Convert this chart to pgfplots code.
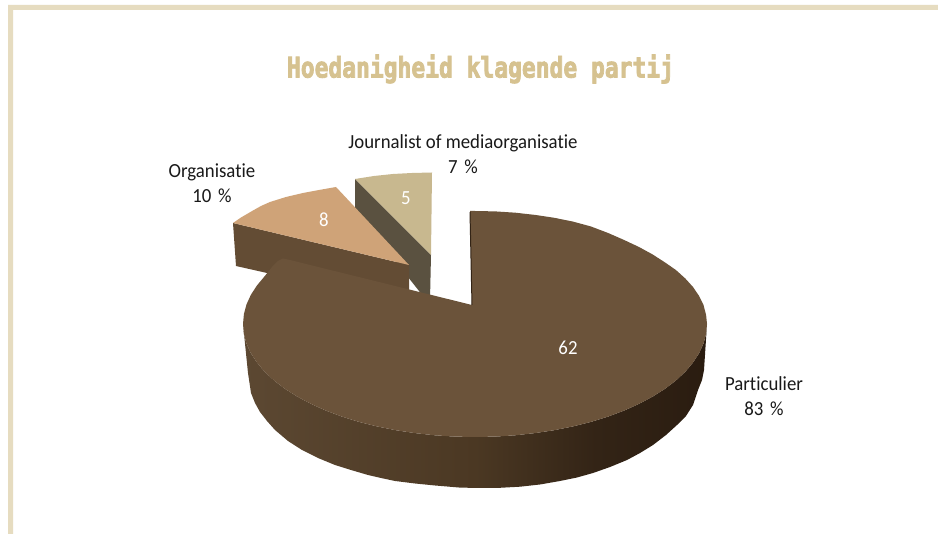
\documentclass[border=0pt]{standalone}
\usepackage{fontspec}
\usepackage{graphicx}
\usepackage{pgfplots}
\pgfplotsset{compat=1.18}
\setmainfont{Carlito}[Ligatures=NoCommon,FakeStretch=0.94]
\newfontfamily\titlefont{DejaVu Sans Mono}[FakeBold=3]
\definecolor{frame}{HTML}{E6DCC0}
\definecolor{titlec}{HTML}{D6C290}
\definecolor{maintop}{HTML}{6B533A}
\definecolor{orgtop}{HTML}{CFA378}
\definecolor{orgside}{HTML}{634C34}
\definecolor{jourtop}{HTML}{C8B88F}
\definecolor{jourside}{HTML}{5A5140}
\definecolor{wa}{HTML}{5C4832}
\definecolor{wb}{HTML}{4B3823}
\definecolor{wc}{HTML}{332416}
\definecolor{wd}{HTML}{2A1C10}
\pgfdeclarehorizontalshading{wall}{100bp}{color(0bp)=(wa); color(25bp)=(wa); color(50bp)=(wb); color(63bp)=(wc); color(75bp)=(wd); color(100bp)=(wd)}
\begin{document}
\begin{tikzpicture}
\begin{axis}[
  scale only axis, width=938pt, height=534pt,
  xmin=0, xmax=938, ymin=0, ymax=534, y dir=reverse,
  hide axis, clip=true,
  every axis plot/.append style={draw=none, line width=0pt},
]
% page extent
\addplot[fill=white] coordinates {(0,0) (938,0) (938,534) (0,534)} -- cycle;
% frame
\addplot[fill=frame] coordinates {(8,5) (938,5) (938,10) (13,10) (13,534) (8,534)} -- cycle;
% Journalist side
\addplot[fill=jourside] coordinates {(355,179) (431,255) (430,300) (423,296) (355,210)} -- cycle;
% Journalist top
\addplot[fill=jourtop] coordinates {(355,179) (374,176) (393,174) (412,173) (432,172.5) (431,255)} -- cycle;
% Organisatie side
\addplot[fill=orgside] coordinates {(233,223) (409,265) (409,305) (236,266)} -- cycle;
% Organisatie top
\addplot[fill=orgtop] coordinates {(233,223) (241,217.5) (253,210.5) (261,206) (270,202) (286,197) (303,193) (319,190) (336,187) (409,265)} -- cycle;
% Main side (cylinder wall)
\addplot[shading=wall] coordinates {
 (243,324) (243.9,333.9) (246.5,343.6) (250.9,353.2) (257,362.6) (264.7,371.8) (274.1,380.5) (284.9,388.8) (297.3,396.6) (311,403.9) (325.9,410.6) (341.9,416.6) (359,421.9) (377,426.4) (395.7,430.2) (415,433.1) (434.7,435.3) (454.8,436.6) (475,437)
 (495.2,436.6) (515.3,435.3) (535,433.1) (554.3,430.2) (573,426.4) (591,421.9) (608.1,416.6) (624.1,410.6) (639,403.9) (652.7,396.6) (665.1,388.8) (675.9,380.5) (685.3,371.8) (693,362.6) (699.1,353.2) (703.5,343.6) (706.1,333.9) (707,324)
 (704,370) (702,380) (698,390) (693,405) (686,416) (677,425) (666,435) (653,445) (640,453) (627,460) (610,467) (593,473) (577,477.5) (560,481) (540,484.5) (520,486.7) (500,487.8) (480,488)
 (460,487.6) (435.2,485.5) (415,483.5) (395,481) (381,478) (368,475) (351,470) (335,465) (318,458) (302,450) (288,441) (275,430) (267,421) (260,412) (255,403) (251,393) (248,373)
} -- cycle;
% Main top
\addplot[fill=maintop] coordinates {
 (470,211) (475,211) (495.2,211.4) (515.3,212.7) (535,214.9) (554.3,217.8) (573,221.6) (591,226.5) (608.1,233) (624.1,240) (639,247) (652.7,254.5) (665.1,262.5) (675.9,270) (685.3,278.5) (693,287) (699.1,296) (703.5,305) (706.1,315) (707,324)
 (706.1,333.9) (703.5,343.6) (699.1,353.2) (693,362.6) (685.3,371.8) (675.9,380.5) (665.1,388.8) (652.7,396.6) (639,403.9) (624.1,410.6) (608.1,416.6) (591,421.9) (573,426.4) (554.3,430.2) (535,433.1) (515.3,435.3) (495.2,436.6) (475,437)
 (454.8,436.6) (434.7,435.3) (415,433.1) (395.7,430.2) (377,426.4) (359,421.9) (341.9,416.6) (325.9,410.6) (311,403.9) (297.3,396.6) (284.9,388.8) (274.1,380.5) (264.7,371.8) (257,362.6) (250.9,353.2) (246.5,343.6) (243.9,333.9) (243,324)
 (243.9,314.1) (246.5,304.4) (250.9,294.8) (257,285.4) (264.7,276.2) (272,267) (278,261) (283,258.5) (290,260) (472,305)
} -- cycle;
% Main cut edge
\addplot[draw=wc, line width=1pt] coordinates {(470,212) (472,305)};
% Title
\node[text=titlec, inner sep=0pt, anchor=base] at (axis cs:480.5,77.5)
  {\resizebox{387pt}{23pt}{\titlefont\bfseries Hoedanigheid klagende partij}};
% Value labels
\node[text=white, font=\fontsize{20}{24}\selectfont] at (axis cs:568,348) {62};
\node[text=white, font=\fontsize{20}{24}\selectfont] at (axis cs:324,220) {8};
\node[text=white, font=\fontsize{20}{24}\selectfont] at (axis cs:406,198) {5};
% Category labels
\node[align=center, text=black!90, font=\fontsize{20}{25}\selectfont] at (axis cs:463,154.5) {Journalist of mediaorganisatie\\7\,\,\%};
\node[align=center, text=black!90, font=\fontsize{20}{25}\selectfont] at (axis cs:212,183) {Organisatie\\10\,\,\%};
\node[align=center, text=black!90, font=\fontsize{20}{25}\selectfont] at (axis cs:764,396.5) {Particulier\\83\,\,\%};
\end{axis}
\end{tikzpicture}
\end{document}
